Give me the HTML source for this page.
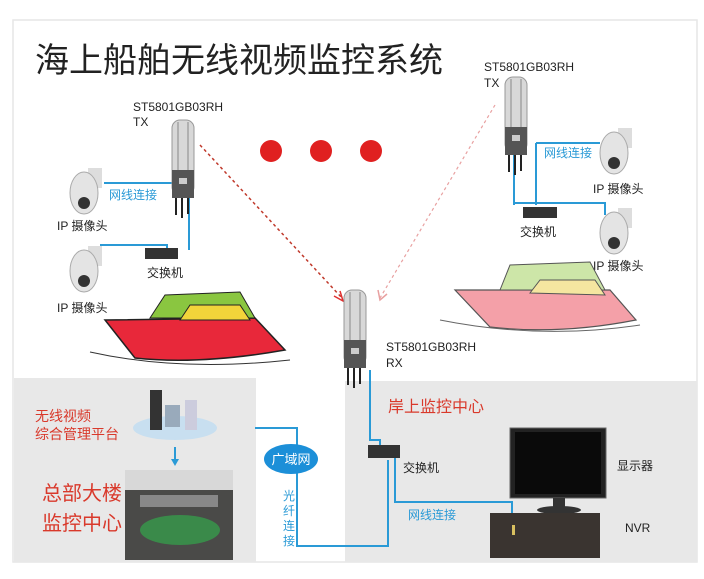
<!DOCTYPE html>
<html><head><meta charset="utf-8"><style>
body{margin:0;background:#fff}
svg{display:block}
text{font-family:"Liberation Sans","Noto Sans CJK SC",sans-serif}
</style></head><body>
<svg width="704" height="579" viewBox="0 0 704 579" xmlns="http://www.w3.org/2000/svg">
<defs>
<g id="ant">
<rect x="172" y="120" width="22" height="75" rx="8" fill="#d8d8d8" stroke="#999"/>
<line x1="178" y1="122" x2="178" y2="193" stroke="#888"/><line x1="188" y1="122" x2="188" y2="193" stroke="#888"/>
<rect x="172" y="170" width="22" height="28" fill="#555"/>
<rect x="179" y="178" width="8" height="6" fill="#ccc"/>
<path d="M176 198 V215 M182 198 V218 M188 198 V214" stroke="#222" stroke-width="2"/>
</g>
<g id="cam">
<rect x="88" y="168" width="14" height="20" fill="#ddd"/>
<ellipse cx="84" cy="193" rx="14" ry="21" fill="#e4e4e4" stroke="#aaa"/>
<circle cx="84" cy="203" r="6" fill="#333"/>
</g>
</defs>
<rect x="0" y="0" width="704" height="579" fill="#fff"/>
<rect x="13" y="20" width="684" height="542" fill="#fff" stroke="#e6e6e6" stroke-width="1.5"/>
<rect x="14" y="378" width="242" height="184" fill="#e8e8e8"/>
<rect x="345" y="381" width="352" height="181" fill="#e8e8e8"/>
<text x="35" y="72" font-size="34" fill="#222">海上船舶无线视频监控系统</text>

<circle cx="271" cy="151" r="11" fill="#e02020"/>
<circle cx="321" cy="151" r="11" fill="#e02020"/>
<circle cx="371" cy="151" r="11" fill="#e02020"/>

<line x1="200" y1="145" x2="342" y2="298" stroke="#c0392b" stroke-width="1.5" stroke-dasharray="3,3"/>
<path d="M334 296 L343 301 L340 291" fill="none" stroke="#e03030" stroke-width="1.5"/>
<line x1="495" y1="105" x2="380" y2="298" stroke="#e8a0a0" stroke-width="1.2" stroke-dasharray="3,3"/>
<path d="M378 290 L380 300 L387 294" fill="none" stroke="#e8a0a0" stroke-width="1.5"/>

<g stroke="#2a9ad6" stroke-width="2" fill="none">
<path d="M104 183 H189 V250"/>
<path d="M100 245 H167 V252"/>
<path d="M536 143 H600 M536 143 V205 M514 150 V205 M514 203 H605 V215"/>
<path d="M255 428 H297 V445"/>
<path d="M297 473 V546 H388 V460"/>
<path d="M395 458 V502 H512 V532"/>
<path d="M370 370 V440 H380 V446"/>
</g>

<use href="#ant"/>
<use href="#ant" x="172" y="170"/>
<use href="#ant" x="333" y="-43"/>

<rect x="145" y="248" width="33" height="11" fill="#333"/>
<rect x="523" y="207" width="34" height="11" fill="#333"/>
<rect x="368" y="445" width="32" height="13" fill="#333"/>

<use href="#cam"/>
<use href="#cam" x="0" y="78"/>
<use href="#cam" x="530" y="-40"/>
<use href="#cam" x="530" y="40"/>

<g font-size="12" fill="#222">
<text x="133" y="111">ST5801GB03RH</text><text x="133" y="126">TX</text>
<text x="484" y="71">ST5801GB03RH</text><text x="484" y="87">TX</text>
<text x="386" y="351">ST5801GB03RH</text><text x="386" y="367">RX</text>
<text x="57" y="230">IP 摄像头</text><text x="57" y="312">IP 摄像头</text>
<text x="593" y="193">IP 摄像头</text><text x="593" y="270">IP 摄像头</text>
<text x="147" y="277">交换机</text><text x="520" y="236">交换机</text>
<text x="403" y="472">交换机</text>
<text x="617" y="470">显示器</text><text x="625" y="532">NVR</text>
</g>
<g font-size="12" fill="#2a9ad6">
<text x="109" y="199">网线连接</text><text x="544" y="157">网线连接</text><text x="408" y="519">网线连接</text>
<text x="283" y="500">光</text><text x="283" y="515">纤</text><text x="283" y="530">连</text><text x="283" y="545">接</text>
</g>

<path d="M105 320 L255 318 L285 350 Q200 365 135 358 Z" fill="#e8283a" stroke="#222" stroke-width="1.5"/>
<path d="M150 318 L165 295 L240 292 L255 318 Z" fill="#8ac640" stroke="#222"/>
<path d="M180 320 L190 305 L240 305 L250 320 Z" fill="#f2d43a" stroke="#222"/>
<path d="M90 352 Q180 372 290 360" fill="none" stroke="#333"/>
<path d="M455 290 L610 290 L636 320 Q560 335 490 327 Z" fill="#f4a0a8" stroke="#555" stroke-width="1.2"/>
<path d="M500 290 L510 265 L590 262 L605 290 Z" fill="#cde6a8" stroke="#555"/>
<path d="M530 293 L540 280 L595 280 L605 295 Z" fill="#f5e6a0" stroke="#555"/>
<path d="M440 320 Q540 340 640 325" fill="none" stroke="#666"/>

<g font-size="14" fill="#d9392b"><text x="35" y="421">无线视频</text><text x="35" y="439">综合管理平台</text></g>
<g font-size="20" fill="#d9392b"><text x="42" y="500">总部大楼</text><text x="42" y="530">监控中心</text></g>
<ellipse cx="175" cy="428" rx="42" ry="12" fill="#c8dff0"/>
<rect x="150" y="390" width="12" height="40" fill="#333"/><rect x="165" y="405" width="15" height="22" fill="#9ab"/><rect x="185" y="400" width="12" height="30" fill="#ccd"/>
<line x1="175" y1="447" x2="175" y2="462" stroke="#2a9ad6" stroke-width="2"/>
<path d="M171 459 L175 466 L179 459 Z" fill="#2a9ad6"/>
<rect x="125" y="470" width="108" height="90" fill="#4a4a48"/>
<rect x="125" y="470" width="108" height="20" fill="#d8d8d8"/>
<rect x="140" y="495" width="78" height="12" fill="#888"/>
<ellipse cx="180" cy="530" rx="40" ry="15" fill="#3a8a4a"/>

<ellipse cx="291" cy="459" rx="27" ry="15" fill="#1c8fd8"/>
<text x="291" y="464" font-size="13" fill="#fff" text-anchor="middle">广域网</text>

<text x="388" y="412" font-size="16" fill="#d9392b">岸上监控中心</text>
<rect x="510" y="428" width="96" height="70" fill="#222" stroke="#666"/>
<rect x="515" y="432" width="86" height="62" fill="#0a0a0a"/>
<rect x="553" y="498" width="12" height="10" fill="#333"/>
<ellipse cx="559" cy="510" rx="22" ry="4" fill="#333"/>
<rect x="490" y="513" width="110" height="45" fill="#3a3430"/>
<rect x="512" y="525" width="3" height="10" fill="#d8c060"/>
</svg>
</body></html>
